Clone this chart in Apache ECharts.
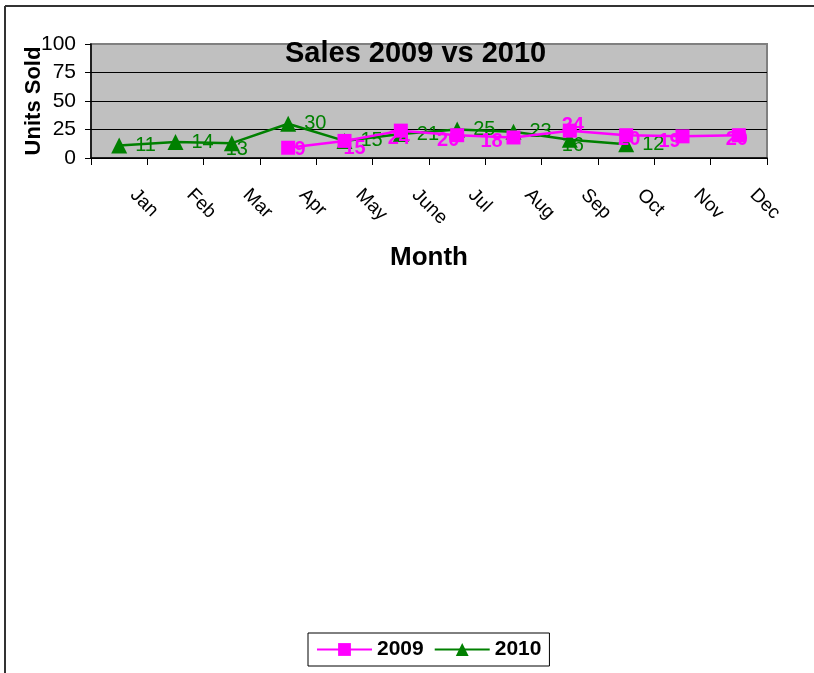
<!DOCTYPE html>
<html>
<head>
<meta charset="utf-8">
<script src="https://cdn.jsdelivr.net/npm/echarts@6/dist/echarts.min.js"></script>
<style>
  html, body { margin: 0; padding: 0; background: #fff; }
  #myChart { width: 814px; height: 673px; }
</style>
</head>
<body>
<div id="myChart"></div>
<script>
// categories and values
var months = ['Jan', 'Feb', 'Mar', 'Apr', 'May', 'June', 'Jul', 'Aug', 'Sep', 'Oct', 'Nov', 'Dec'];
var sales2009 = [null, null, null, 9, 15, 24, 20, 18, 24, 20, 19, 20];
var sales2010 = [11, 14, 13, 30, 15, 21, 25, 23, 16, 12, null, null];
var yTicks = [0, 25, 50, 75, 100];

var FONT = '"Liberation Sans", Arial, sans-serif';

// label placement tweaks (Excel puts a few of them elsewhere)
var off2009 = {3: [12, 2], 4: [10, 8], 5: [-2, 8], 6: [-9, 5], 7: [-22, 4], 8: [3, -5], 9: [3, 4], 10: [-13, 5], 11: [-2, 4]};
var off2010 = {2: [5, 6], 8: [3, 6]};

var data2009 = sales2009.map(function (v, i) {
  return { value: v, label: { offset: off2009[i] || [0, 0] } };
});
var data2010 = sales2010.map(function (v, i) {
  if (off2010[i]) return { value: v, label: { position: 'inside', offset: off2010[i] } };
  return { value: v };
});

var Chart = echarts.init(document.getElementById('myChart'));
Chart.setOption({
  animation: false,
  textStyle: { fontFamily: FONT },
  title: {
    text: 'Sales 2009 vs 2010',
    left: 285,
    top: 39,
    padding: 0,
    textStyle: { fontFamily: FONT, fontSize: 29, fontWeight: 'bold', color: '#000' }
  },
  legend: {
    data: ['2009', '2010'],
    left: 308,
    top: 633,
    padding: [6, 8, 6, 8],
    itemGap: 10,
    itemWidth: 55,
    itemHeight: 16,
    borderColor: '#000',
    borderWidth: 1,
    borderRadius: 0,
    textStyle: { fontFamily: FONT, fontSize: 21, fontWeight: 'bold', color: '#000' }
  },
  grid: {
    left: 91,
    right: 47,
    top: 44,
    bottom: 515,
    show: true,
    backgroundColor: '#c0c0c0',
    borderColor: '#808080',
    borderWidth: 2
  },
  graphic: [
    { type: 'line', shape: { x1: 5, y1: 6, x2: 814, y2: 6 }, style: { stroke: '#333', lineWidth: 2 } },
    { type: 'line', shape: { x1: 5, y1: 6, x2: 5, y2: 673 }, style: { stroke: '#333', lineWidth: 2 } }
  ],
  xAxis: {
    type: 'category',
    data: months,
    boundaryGap: true,
    name: 'Month',
    nameLocation: 'middle',
    nameGap: 87,
    nameTextStyle: { fontFamily: FONT, fontSize: 26, fontWeight: 'bold', color: '#000' },
    axisLine: { lineStyle: { color: '#000', width: 1.5 } },
    axisTick: { show: true, interval: 0, length: 7, lineStyle: { color: '#000' } },
    axisLabel: { interval: 0, rotate: -45, margin: 20, padding: [0, 0, 0, 20], fontFamily: FONT, fontSize: 19, color: '#000' }
  },
  yAxis: {
    type: 'value',
    min: yTicks[0],
    max: yTicks[yTicks.length - 1],
    interval: 25,
    name: 'Units Sold',
    nameLocation: 'middle',
    nameGap: 46,
    nameMoveOverlap: false,
    nameTextStyle: { fontFamily: FONT, fontSize: 22, fontWeight: 'bold', color: '#000' },
    axisLine: { show: true, lineStyle: { color: '#000', width: 1.5 } },
    axisTick: { show: true, length: 6, lineStyle: { color: '#000' } },
    axisLabel: { margin: 15, fontFamily: FONT, fontSize: 21, color: '#000' },
    splitLine: { show: true, lineStyle: { color: ['#000', '#000', '#000', '#000', '#808080'], width: 1 } }
  },
  series: [
    {
      name: '2009',
      type: 'line',
      data: data2009,
      connectNulls: false,
      symbol: 'rect',
      symbolSize: 14,
      itemStyle: { color: '#ff00ff' },
      lineStyle: { color: '#ff00ff', width: 2.5 },
      label: { show: true, position: 'inside', fontFamily: FONT, fontSize: 20, fontWeight: 'bold', color: '#ff00ff' },
      z: 3
    },
    {
      name: '2010',
      type: 'line',
      data: data2010,
      symbol: 'triangle',
      symbolSize: 16,
      itemStyle: { color: '#008000' },
      lineStyle: { color: '#008000', width: 2.5 },
      label: { show: true, position: 'right', distance: 8, fontFamily: FONT, fontSize: 20, color: '#008000' },
      z: 2
    }
  ]
}, true);
</script>
</body>
</html>
